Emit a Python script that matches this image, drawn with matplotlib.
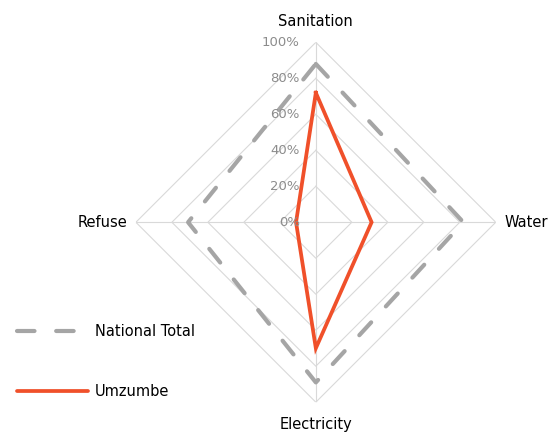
import numpy as np
import matplotlib.pyplot as plt
from matplotlib.lines import Line2D

# --- DATA ---
categories = ['Sanitation', 'Water', 'Electricity', 'Refuse']
national_total = [88, 82, 89, 71]
umzumbe = [72, 31, 70, 11]
levels = [0, 20, 40, 60, 80, 100]

GRID_COLOR = '#D9D9D9'
NAT_COLOR = '#A5A5A5'
UMZ_COLOR = '#F0502A'

angles = np.linspace(0, 2 * np.pi, len(categories), endpoint=False)
ang_closed = np.append(angles, angles[0])

fig = plt.figure(figsize=(5.59, 4.32), dpi=100, facecolor='white')
ax = fig.add_axes([0.243, 0.069, 0.644, 0.833], projection='polar')
ax.set_theta_offset(np.pi / 2)
ax.set_theta_direction(-1)
ax.set_ylim(0, 100)
ax.grid(False)
ax.spines['polar'].set_visible(False)
ax.set_xticks([])
ax.set_yticks([])
ax.patch.set_alpha(0)

# diamond rings + spokes
for lv in levels[1:]:
    ax.plot(ang_closed, [lv] * len(ang_closed), color=GRID_COLOR, lw=0.8, zorder=1)
for a in angles:
    ax.plot([a, a], [0, 100], color=GRID_COLOR, lw=0.8, zorder=1)

# series
ax.plot(ang_closed, national_total + national_total[:1], color=NAT_COLOR, lw=3,
        dashes=(4.2, 5.2), dash_capstyle='round', zorder=3)
ax.plot(ang_closed, umzumbe + umzumbe[:1], color=UMZ_COLOR, lw=2.7,
        solid_joinstyle='miter', zorder=4)

# radial tick labels along the top axis
for lv in levels:
    ax.annotate(f'{lv}%', xy=(0, lv), xytext=(-11.5, 0), textcoords='offset points',
                ha='right', va='center', fontsize=9.5, color='#8C8C8C', zorder=5)

# category labels
offsets = [(0, 15, 'center', 'center'), (6, 0, 'left', 'center'),
           (0, -16, 'center', 'center'), (-6, 0, 'right', 'center')]
for a, lab, (dx, dy, ha, va) in zip(angles, categories, offsets):
    ax.annotate(lab, xy=(a, 100), xytext=(dx, dy), textcoords='offset points',
                ha=ha, va=va, fontsize=10.5, color='black', annotation_clip=False)

legend_elements = [
    Line2D([0], [0], color=NAT_COLOR, lw=3, dashes=(4.2, 5.2), dash_capstyle='round',
           label='National Total'),
    Line2D([0], [0], color=UMZ_COLOR, lw=2.7, solid_capstyle='round', label='Umzumbe'),
]
fig.legend(handles=legend_elements, loc='lower left', bbox_to_anchor=(17 / 559, 0.077),
           frameon=False, fontsize=10.5, handlelength=4.9, handletextpad=0.45,
           labelspacing=3.05, borderpad=0, borderaxespad=0)

plt.savefig('out.png', dpi=100, facecolor='white')
